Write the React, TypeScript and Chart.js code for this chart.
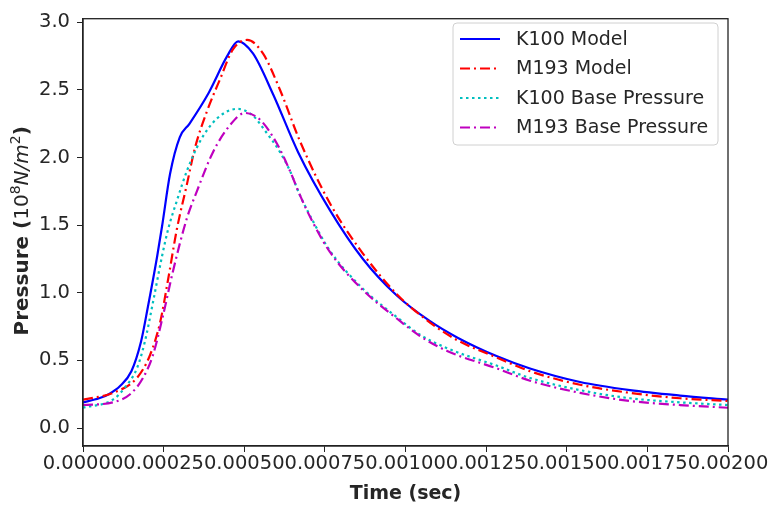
import React, { useEffect, useRef } from "react";
import { Chart, registerables } from "chart.js";

Chart.register(...registerables);

// Time in microseconds, pressure in 10^8 N/m^2
const k100ModelTimeUs = [0, 50, 80, 115, 150, 180, 200, 230, 245, 270, 300, 330, 390, 447, 481, 527, 589, 667, 766, 868, 973, 1076, 1160, 1284, 1386, 1541, 1696, 1851, 2000];
const k100ModelValues = [0.19, 0.22, 0.25, 0.31, 0.42, 0.64, 0.88, 1.27, 1.49, 1.88, 2.15, 2.25, 2.48, 2.75, 2.86, 2.77, 2.47, 2.04, 1.61, 1.25, 0.98, 0.79, 0.67, 0.53, 0.44, 0.34, 0.28, 0.24, 0.21];

const m193ModelTimeUs = [0, 93, 167, 208, 239, 264, 291, 322, 347, 384, 425, 465, 509, 558, 611, 673, 766, 868, 973, 1076, 1160, 1284, 1386, 1541, 1696, 1851, 2000];
const m193ModelValues = [0.21, 0.26, 0.37, 0.54, 0.78, 1.1, 1.47, 1.8, 2.07, 2.34, 2.58, 2.8, 2.87, 2.77, 2.5, 2.12, 1.66, 1.29, 0.99, 0.78, 0.65, 0.52, 0.42, 0.32, 0.26, 0.22, 0.2];

const k100BaseTimeUs = [0, 93, 130, 167, 192, 217, 245, 264, 291, 322, 363, 416, 478, 527, 564, 611, 642, 673, 713, 766, 868, 973, 1045, 1129, 1284, 1386, 1541, 1696, 1851, 2000];
const k100BaseValues = [0.15, 0.21, 0.3, 0.44, 0.64, 0.93, 1.27, 1.47, 1.68, 1.9, 2.12, 2.29, 2.36, 2.31, 2.2, 2.04, 1.9, 1.72, 1.53, 1.31, 1.03, 0.82, 0.69, 0.59, 0.46, 0.37, 0.28, 0.22, 0.19, 0.17];

const m193BaseTimeUs = [0, 93, 146, 186, 217, 248, 279, 322, 353, 403, 456, 502, 549, 602, 642, 673, 713, 766, 868, 973, 1045, 1129, 1284, 1386, 1541, 1696, 1851, 2000];
const m193BaseValues = [0.17, 0.19, 0.25, 0.37, 0.54, 0.83, 1.16, 1.55, 1.75, 2.04, 2.24, 2.33, 2.28, 2.1, 1.9, 1.72, 1.52, 1.3, 1.02, 0.81, 0.68, 0.57, 0.44, 0.35, 0.26, 0.2, 0.17, 0.15];

const seriesLabels = ["K100 Model", "M193 Model", "K100 Base Pressure", "M193 Base Pressure"];
const xTicks = [0, 0.00025, 0.0005, 0.00075, 0.001, 0.00125, 0.0015, 0.00175, 0.002];
const yTicks = [0, 0.5, 1.0, 1.5, 2.0, 2.5, 3.0];

const FONT = "DejaVu Sans";
const TEXT = "#262626";

const toPoints = (t: number[], v: number[]) => t.map((us, i) => ({ x: us * 1e-6, y: v[i] }));

const styles = [
  { color: "#0000ff", dash: [] as number[], width: 2.2 },
  { color: "#ff0000", dash: [10, 4, 2, 4], width: 2.2 },
  { color: "#00bfbf", dash: [2.5, 3.5], width: 2.2 },
  { color: "#bf00bf", dash: [10, 4, 2, 4], width: 2.2 },
];

const decorPlugin = {
  id: "decor",
  afterDraw(chart: any) {
    const ctx = chart.ctx as CanvasRenderingContext2D;
    const a = chart.chartArea;
    ctx.save();
    // frame
    ctx.strokeStyle = "#222";
    ctx.lineWidth = 1.3;
    ctx.setLineDash([]);
    ctx.strokeRect(a.left, a.top, a.right - a.left, a.bottom - a.top);

    // legend
    const bx = 453, by = 23, bw = 265, bh = 122, r = 4;
    ctx.beginPath();
    ctx.moveTo(bx + r, by);
    ctx.lineTo(bx + bw - r, by);
    ctx.quadraticCurveTo(bx + bw, by, bx + bw, by + r);
    ctx.lineTo(bx + bw, by + bh - r);
    ctx.quadraticCurveTo(bx + bw, by + bh, bx + bw - r, by + bh);
    ctx.lineTo(bx + r, by + bh);
    ctx.quadraticCurveTo(bx, by + bh, bx, by + bh - r);
    ctx.lineTo(bx, by + r);
    ctx.quadraticCurveTo(bx, by, bx + r, by);
    ctx.closePath();
    ctx.fillStyle = "rgba(255,255,255,0.85)";
    ctx.fill();
    ctx.strokeStyle = "#d0d0d0";
    ctx.lineWidth = 1;
    ctx.stroke();
    const rows = [39, 68.5, 98, 127.5];
    chart.data.datasets.forEach((ds: any, i: number) => {
      const y = rows[i];
      ctx.beginPath();
      ctx.setLineDash(ds.borderDash || []);
      ctx.strokeStyle = ds.borderColor;
      ctx.lineWidth = ds.borderWidth;
      ctx.moveTo(460, y);
      ctx.lineTo(500, y);
      ctx.stroke();
      ctx.setLineDash([]);
      ctx.fillStyle = TEXT;
      ctx.font = `19px "${FONT}"`;
      ctx.textBaseline = "middle";
      ctx.textAlign = "left";
      ctx.fillText(ds.label, 516, y + 1);
    });

    // x title
    ctx.fillStyle = TEXT;
    ctx.font = `bold 19px "${FONT}"`;
    ctx.textAlign = "center";
    ctx.textBaseline = "alphabetic";
    ctx.fillText("Time (sec)", (a.left + a.right) / 2, 499);

    // y title with superscript pieces
    const segs = [
      { t: "Pressure (", f: `bold 20px "${FONT}"`, dy: 0 },
      { t: "10", f: `20px "${FONT}"`, dy: 0 },
      { t: "8", f: `14px "${FONT}"`, dy: -8 },
      { t: "N/m", f: `italic 20px "${FONT}"`, dy: 0 },
      { t: "2", f: `14px "${FONT}"`, dy: -8 },
      { t: ")", f: `bold 20px "${FONT}"`, dy: 0 },
    ];
    let total = 0;
    const widths = segs.map((s) => {
      ctx.font = s.f;
      const w = ctx.measureText(s.t).width;
      total += w;
      return w;
    });
    ctx.translate(28, (a.top + a.bottom) / 2 - 1.5);
    ctx.rotate(-Math.PI / 2);
    ctx.textAlign = "left";
    let x = -total / 2;
    segs.forEach((s, i) => {
      ctx.font = s.f;
      ctx.fillText(s.t, x, s.dy);
      x += widths[i];
    });
    ctx.restore();
  },
};

export default function App() {
  const ref = useRef<HTMLCanvasElement | null>(null);
  useEffect(() => {
    document.body.style.margin = "0";
    const canvas = ref.current!;
    const times = [k100ModelTimeUs, m193ModelTimeUs, k100BaseTimeUs, m193BaseTimeUs];
    const vals = [k100ModelValues, m193ModelValues, k100BaseValues, m193BaseValues];
    const chart = new Chart(canvas, {
      type: "line",
      data: {
        datasets: seriesLabels.map((label, i) => ({
          label,
          data: toPoints(times[i], vals[i]),
          borderColor: styles[i].color,
          backgroundColor: styles[i].color,
          borderDash: styles[i].dash,
          borderWidth: styles[i].width,
          pointRadius: 0,
          fill: false,
          cubicInterpolationMode: "monotone" as const,
          order: 4 - i,
        })),
      },
      options: {
        animation: false,
        responsive: false,
        events: [],
        layout: { padding: { top: 12, right: 41, left: 0, bottom: 0 } },
        plugins: { legend: { display: false }, tooltip: { enabled: false } },
        scales: {
          x: {
            type: "linear",
            min: 0,
            max: 0.002,
            afterBuildTicks: (s: any) => {
              s.ticks = xTicks.map((v) => ({ value: v }));
            },
            afterFit: (s: any) => {
              s.height = 63;
            },
            ticks: {
              autoSkip: false,
              maxRotation: 0,
              minRotation: 0,
              padding: 0,
              color: TEXT,
              font: { family: FONT, size: 19.5 },
              callback: (v: any) => Number(v).toFixed(5),
            },
            grid: { drawOnChartArea: false, drawTicks: true, tickLength: 6, color: "#222", lineWidth: 1 },
            border: { display: true, color: "#222", width: 1.3 },
          },
          y: {
            type: "linear",
            min: -0.133,
            max: 3.027,
            afterBuildTicks: (s: any) => {
              s.ticks = yTicks.map((v) => ({ value: v }));
            },
            afterFit: (s: any) => {
              s.width = 83;
            },
            ticks: {
              padding: 7,
              color: TEXT,
              font: { family: FONT, size: 19.5 },
              callback: (v: any) => Number(v).toFixed(1),
            },
            grid: { drawOnChartArea: false, drawTicks: true, tickLength: 6, color: "#222", lineWidth: 1 },
            border: { display: true, color: "#222", width: 1.3 },
          },
        },
      },
      plugins: [decorPlugin],
    });
    return () => chart.destroy();
  }, []);
  return (
    <div style={{ width: 769, height: 509 }}>
      <canvas ref={ref} width={769} height={509} style={{ display: "block" }} />
    </div>
  );
}
